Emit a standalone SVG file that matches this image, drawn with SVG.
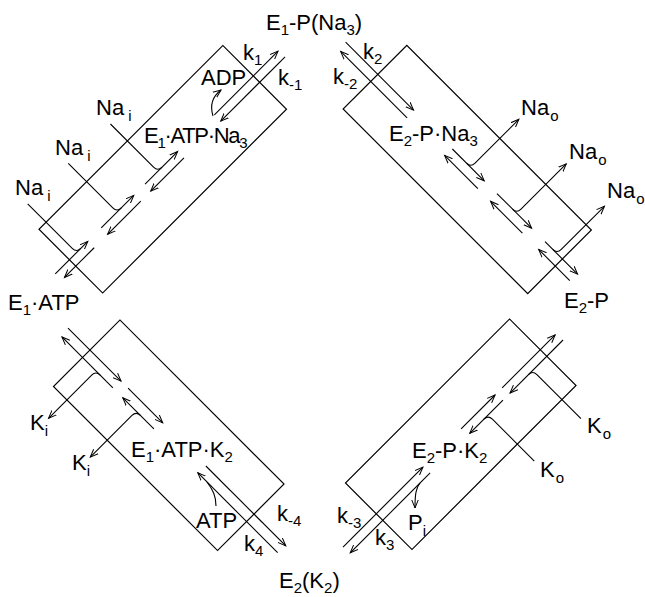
<svg xmlns="http://www.w3.org/2000/svg" width="645" height="597" viewBox="0 0 645 597">
<defs>
  <marker id="ah" viewBox="0 0 10 8" markerWidth="10" markerHeight="8" refX="8" refY="4" orient="auto" markerUnits="userSpaceOnUse">
    <path d="M0,0.8 L8,4 L0,7.2" fill="none" stroke="#000" stroke-width="1"/>
  </marker>
</defs>
<style>
  .box{fill:none;stroke:#000;stroke-width:1.2}
  .ln{fill:none;stroke:#000;stroke-width:1.1}
  .ar{fill:none;stroke:#000;stroke-width:1.1;marker-end:url(#ah)}
  text{font-family:"Liberation Sans",Arial,Helvetica,sans-serif;font-size:22px;fill:#000}
  .s{font-size:15px}
  .tight{letter-spacing:-1.3px}
</style>
<rect width="645" height="597" fill="#fff"/>

<!-- sodium-binding box (E1·ATP -> E1-P(Na3)) -->
<g id="box-e1-na" transform="translate(162.75,169.25) rotate(-45)">
  <rect class="box" x="-130" y="-45" width="260" height="90"/>
</g>
<!-- sodium-release box (E1-P(Na3) -> E2-P) -->
<g id="box-e2-na" transform="translate(467.25,169.5) rotate(45)">
  <rect class="box" x="-130.5" y="-45" width="261" height="90"/>
</g>
<!-- potassium-release box (E2(K2) -> E1·ATP) -->
<g id="box-e1-k" transform="translate(168.75,435.25) rotate(45)">
  <rect class="box" x="-116" y="-47" width="232" height="94"/>
</g>
<!-- potassium-binding box (E2-P -> E2(K2)) -->
<g id="box-e2-k" transform="translate(460.75,434.25) rotate(-45)">
  <rect class="box" x="-116" y="-47" width="232" height="94"/>
</g>

<g id="connectors">
  <!-- upper left: Na binding steps -->
  <g transform="translate(162.75,169.25) rotate(-45)">
    <path class="ar" d="M75,-2 L165,-2"/>
    <path class="ar" d="M166,7 L75,7"/>
    <path class="ar" d="M-23,-2 L23,-2"/>
    <path class="ar" d="M23,7 L-24,7"/>
    <path class="ar" d="M-85,-2 L-39,-2"/>
    <path class="ar" d="M-38,7 L-85,7"/>
    <path class="ar" d="M-150,-2 L-104,-2"/>
    <path class="ar" d="M-104,7 L-146,7"/>
    <path class="ln" d="M-5,-69 L-5,-8 Q-5,-2 1,-2"/>
    <path class="ln" d="M-62.6,-71 L-62.6,-8 Q-62.6,-2 -56.6,-2"/>
    <path class="ln" d="M-120,-71 L-120,-8 Q-120,-2 -114,-2"/>
  </g>
  <path class="ar" d="M213,116 Q208,100 221,90"/>

  <!-- upper right: Na release steps -->
  <g transform="translate(467.25,169.5) rotate(45)">
    <path class="ar" d="M-176,-4 L-80,-4"/>
    <path class="ar" d="M-79,6 L-173,6"/>
    <path class="ar" d="M-25,-4 L20,-4"/>
    <path class="ar" d="M21,6 L-26,6"/>
    <path class="ar" d="M38,-4 L87,-4"/>
    <path class="ar" d="M84,6 L39,6"/>
    <path class="ar" d="M106,-4 L152,-4"/>
    <path class="ar" d="M151,6 L107,6"/>
    <path class="ar" d="M-5,-4 Q1,-4 1,-10 L1,-72"/>
    <path class="ar" d="M60,-4 Q66,-4 66,-10 L66,-74"/>
    <path class="ar" d="M117,-4 Q123,-4 123,-10 L123,-71"/>
  </g>

  <!-- lower left: K release and ATP binding -->
  <g transform="translate(168.75,435.25) rotate(45)">
    <path class="ar" d="M-73,6 L-145,6"/>
    <path class="ar" d="M-147,-4.5 L-72,-4.5"/>
    <path class="ar" d="M-15,6 L-59,6"/>
    <path class="ar" d="M-62,-4.5 L-13,-4.5"/>
    <path class="ar" d="M160,6 L47,6"/>
    <path class="ar" d="M48,-4.5 L161,-4.5"/>
    <path class="ar" d="M-91,6 Q-97,6 -97,12 L-97,73"/>
    <path class="ar" d="M-34,6 Q-40,6 -40,12 L-40,71"/>
  </g>
  <path class="ln" d="M216,506 C216,496 213,490 207,482"/>

  <!-- lower right: K binding and Pi release -->
  <g transform="translate(460.75,434.25) rotate(-45)">
    <path class="ar" d="M62,-3.5 L137,-3.5"/>
    <path class="ar" d="M139,5.7 L64,5.7"/>
    <path class="ar" d="M4,-3.5 L52,-3.5"/>
    <path class="ar" d="M54,5.7 L7,5.7"/>
    <path class="ar" d="M-163,-3.5 L-50,-3.5"/>
    <path class="ar" d="M-49,5.7 L-162,5.7"/>
    <path class="ln" d="M96,74 L96,11.7 Q96,5.7 90,5.7"/>
    <path class="ln" d="M33,71 L33,11.7 Q33,5.7 27,5.7"/>
  </g>
  <path class="ar" d="M420,483 C416,488 415,494 415,508"/>
</g>

<!-- main states -->
<g id="state-e1p-na3"><text x="266" y="30">E<tspan class="s" dy="5">1</tspan><tspan dy="-5">-P(Na</tspan><tspan class="s" dy="5">3</tspan><tspan dy="-5">)</tspan></text></g>
<g id="state-e2p"><text x="564" y="308">E<tspan class="s" dy="5">2</tspan><tspan dy="-5">-P</tspan></text></g>
<g id="state-e2-k2"><text x="279" y="588">E<tspan class="s" dy="5">2</tspan><tspan dy="-5">(K</tspan><tspan class="s" dy="5">2</tspan><tspan dy="-5">)</tspan></text></g>
<g id="state-e1atp"><text x="8" y="310">E<tspan class="s" dy="5">1</tspan><tspan dy="-5">·ATP</tspan></text></g>

<!-- occluded intermediates -->
<g id="state-e1atp-na3"><text class="tight" x="144" y="143">E<tspan class="s" dy="5">1</tspan><tspan dy="-5">·ATP·Na</tspan><tspan class="s" dy="5">3</tspan></text></g>
<g id="state-e2p-na3"><text x="389" y="141">E<tspan class="s" dy="5">2</tspan><tspan dy="-5">-P·Na</tspan><tspan class="s" dy="5">3</tspan></text></g>
<g id="state-e1atp-k2"><text x="131" y="457">E<tspan class="s" dy="5">1</tspan><tspan dy="-5">·ATP·K</tspan><tspan class="s" dy="5">2</tspan></text></g>
<g id="state-e2p-k2"><text x="412" y="458">E<tspan class="s" dy="5">2</tspan><tspan dy="-5">-P·K</tspan><tspan class="s" dy="5">2</tspan></text></g>

<!-- ligands and rate constants -->
<g id="labels">
  <text x="96" y="115">Na<tspan class="s" dx="4" dy="6">i</tspan></text>
  <text x="55" y="155">Na<tspan class="s" dx="4" dy="6">i</tspan></text>
  <text x="15" y="195">Na<tspan class="s" dx="4" dy="6">i</tspan></text>
  <text x="201" y="85">ADP</text>
  <text x="243" y="60">k<tspan class="s" dy="5">1</tspan></text>
  <text x="278" y="85">k<tspan class="s" dy="5">-1</tspan></text>

  <text x="363" y="59">k<tspan class="s" dy="5">2</tspan></text>
  <text x="333" y="84">k<tspan class="s" dy="5">-2</tspan></text>
  <text x="521" y="115">Na<tspan class="s" dx="1" dy="6">o</tspan></text>
  <text x="569" y="159">Na<tspan class="s" dx="1" dy="6">o</tspan></text>
  <text x="607" y="198">Na<tspan class="s" dx="1" dy="6">o</tspan></text>

  <text x="30" y="430">K<tspan class="s" dy="6">i</tspan></text>
  <text x="72" y="470">K<tspan class="s" dy="6">i</tspan></text>
  <text x="196" y="528">ATP</text>
  <text x="277" y="521">k<tspan class="s" dy="5">-4</tspan></text>
  <text x="244" y="551">k<tspan class="s" dy="5">4</tspan></text>

  <text x="587" y="433">K<tspan class="s" dx="1" dy="6">o</tspan></text>
  <text x="540" y="477">K<tspan class="s" dx="1" dy="6">o</tspan></text>
  <text x="337" y="523">k<tspan class="s" dy="5">-3</tspan></text>
  <text x="375" y="545">k<tspan class="s" dy="5">3</tspan></text>
  <text x="408" y="530">P<tspan class="s" dy="6">i</tspan></text>
</g>
</svg>
